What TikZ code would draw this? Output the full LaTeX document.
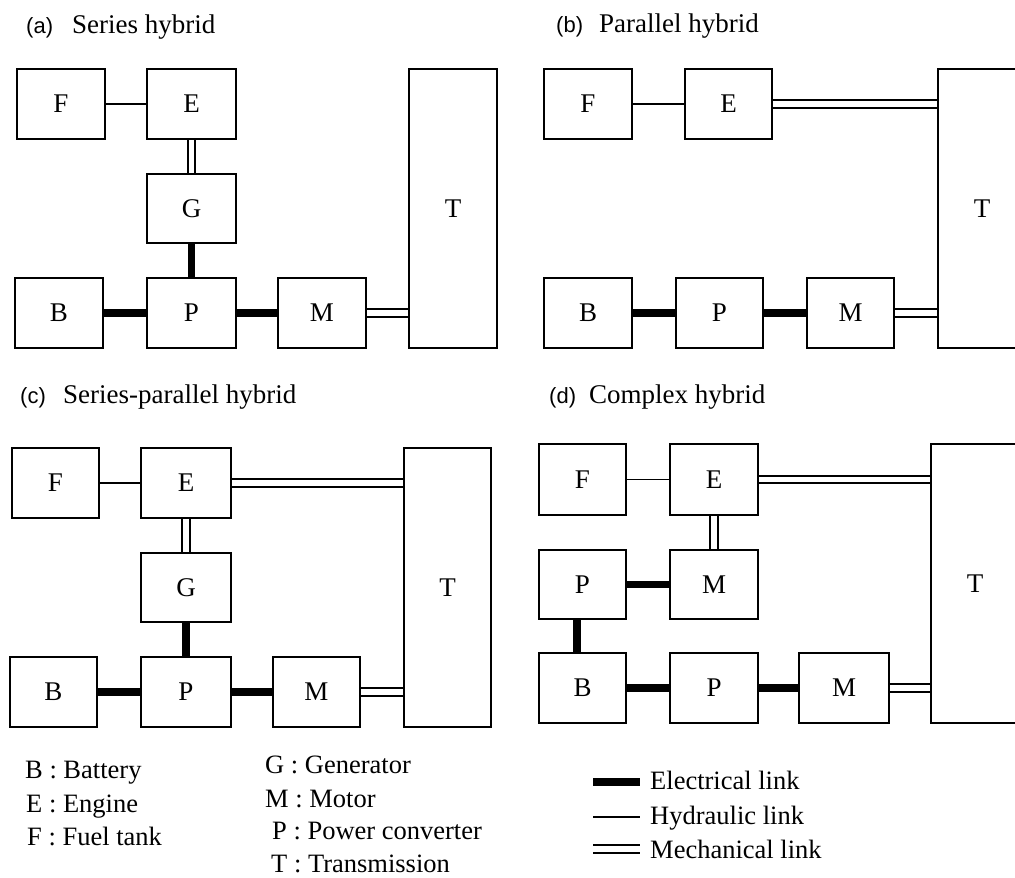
\documentclass[tikz,border=0pt]{standalone}
\usepackage{fontspec}
\setmainfont{Liberation Serif}
\setsansfont{Liberation Sans}
\usetikzlibrary{backgrounds}
\begin{document}
\begin{tikzpicture}[x=1pt,y=-1pt,
  blk/.style={draw, line width=1.8pt, inner sep=0pt, minimum width=88pt, minimum height=70pt,
              font=\fontsize{27}{31}\selectfont},
  ttl/.style={inner sep=0pt, anchor=base west, font=\fontsize{27}{32}\selectfont},
  ttlsans/.style={inner sep=0pt, anchor=base west, font=\sffamily\fontsize{22}{26}\selectfont},
  leg/.style={inner sep=0pt, anchor=base west, font=\fontsize{26.5}{31}\selectfont},
  hyd/.style={line width=1.6pt},
  elec/.style={line width=7.5pt},
  mech/.style={line width=1.7pt, double=white, double distance=5.8pt},
]
\useasboundingbox (0,0) rectangle (1015,878);
\clip (0,0) rectangle (1015,878);

% ---------- (a) Series hybrid ----------
\node[ttlsans] (tla) at (26,33) {(a)};
\node[ttl] (tta) at (72,33) {Series hybrid};
\node[blk] (aF) at (61,104) {F};
\node[blk, minimum width=89pt] (aE) at (191.5,104) {E};
\node[blk, minimum width=89pt, minimum height=69pt] (aG) at (191.5,208.5) {G};
\node[blk] (aB) at (59,313) {B};
\node[blk, minimum width=89pt] (aP) at (191.5,313) {P};
\node[blk] (aM) at (322,313) {M};
\node[blk, minimum height=279pt] (aT) at (453,208.5) {T};

% ---------- (b) Parallel hybrid ----------
\node[ttlsans] (tlb) at (556,32) {(b)};
\node[ttl] (ttb) at (599,32) {Parallel hybrid};
\node[blk] (bF) at (588,104) {F};
\node[blk, minimum width=87pt] (bE) at (728.5,104) {E};
\node[blk, minimum height=279pt] (bT) at (982,208.5) {T};
\node[blk] (bB) at (588,313) {B};
\node[blk, minimum width=87pt] (bP) at (719.5,313) {P};
\node[blk, minimum width=87pt] (bM) at (850.5,313) {M};

% ---------- (c) Series-parallel hybrid ----------
\node[ttlsans] (tlc) at (20,403) {(c)};
\node[ttl] (ttc) at (63,403) {Series-parallel hybrid};
\node[blk, minimum width=87pt] (cF) at (55.5,483) {F};
\node[blk, minimum width=90pt] (cE) at (186,483) {E};
\node[blk, minimum width=90pt, minimum height=69pt] (cG) at (186,587.5) {G};
\node[blk, minimum width=87pt] (cB) at (53.5,692) {B};
\node[blk, minimum width=90pt] (cP) at (186,692) {P};
\node[blk, minimum width=87pt] (cM) at (316.5,692) {M};
\node[blk, minimum width=87pt, minimum height=279pt] (cT) at (447.5,587.5) {T};

% ---------- (d) Complex hybrid ----------
\node[ttlsans] (tld) at (549,403) {(d)};
\node[ttl] (ttd) at (589,403) {Complex hybrid};
\node[blk, minimum width=87pt, minimum height=71pt] (dF) at (582.5,479.5) {F};
\node[blk, minimum height=71pt] (dE) at (714,479.5) {E};
\node[blk, minimum width=87pt, minimum height=69pt] (dP1) at (582.5,584.5) {P};
\node[blk, minimum height=69pt] (dM1) at (714,584.5) {M};
\node[blk, minimum width=87pt] (dB) at (582.5,688) {B};
\node[blk] (dP2) at (714,688) {P};
\node[blk, minimum width=90pt] (dM2) at (844,688) {M};
\node[blk, minimum height=279pt] (dT) at (975,583.5) {T};

% ---------- legend ----------
\node[leg] (lB) at (25,778) {B : Battery};
\node[leg] (lE) at (26,812) {E : Engine};
\node[leg] (lF) at (27,845) {F : Fuel tank};
\node[leg] (lG) at (265,773) {G : Generator};
\node[leg] (lM) at (265,807) {M : Motor};
\node[leg] (lP) at (272,839) {P : Power converter};
\node[leg] (lT) at (271,872) {T : Transmission};
\coordinate (e1) at (593,782); \coordinate (e2) at (640,782);
\coordinate (h1) at (593,817); \coordinate (h2) at (640,817);
\coordinate (m1) at (593,849); \coordinate (m2) at (640,849);
\node[leg] (lel) at (650,789) {Electrical link};
\node[leg] (lhl) at (650,824) {Hydraulic link};
\node[leg] (lml) at (650,858) {Mechanical link};

\begin{scope}[on background layer]
  % (a)
  \draw[hyd] (aF) -- (aE);
  \draw[mech] (aE) -- (aG);
  \draw[elec] (aG) -- (aP);
  \draw[elec] (aB) -- (aP);
  \draw[elec] (aP) -- (aM);
  \draw[mech] (aM.east) -- (aM.east -| aT.west);
  % (b)
  \draw[hyd] (bF) -- (bE);
  \draw[mech] (bE.east) -- (bE.east -| bT.west);
  \draw[elec] (bB) -- (bP);
  \draw[elec] (bP) -- (bM);
  \draw[mech] (bM.east) -- (bM.east -| bT.west);
  % (c)
  \draw[hyd] (cF) -- (cE);
  \draw[mech] (cE.east) -- (cE.east -| cT.west);
  \draw[mech] (cE) -- (cG);
  \draw[elec] (cG) -- (cP);
  \draw[elec] (cB) -- (cP);
  \draw[elec] (cP) -- (cM);
  \draw[mech] (cM.east) -- (cM.east -| cT.west);
  % (d)
  \draw[hyd] (dF) -- (dE);
  \draw[mech] (dE.east) -- (dE.east -| dT.west);
  \draw[mech] (dE) -- (dM1);
  \draw[elec] (dP1) -- (dM1);
  \draw[elec] ([xshift=-5.5pt]dP1.south) -- ([xshift=-5.5pt]dB.north);
  \draw[elec] (dB) -- (dP2);
  \draw[elec] (dP2) -- (dM2);
  \draw[mech] (dM2.east) -- (dM2.east -| dT.west);
  % legend
  \draw[elec] (e1) -- (e2);
  \draw[hyd] (h1) -- (h2);
  \draw[mech] (m1) -- (m2);
\end{scope}
\end{tikzpicture}
\end{document}
